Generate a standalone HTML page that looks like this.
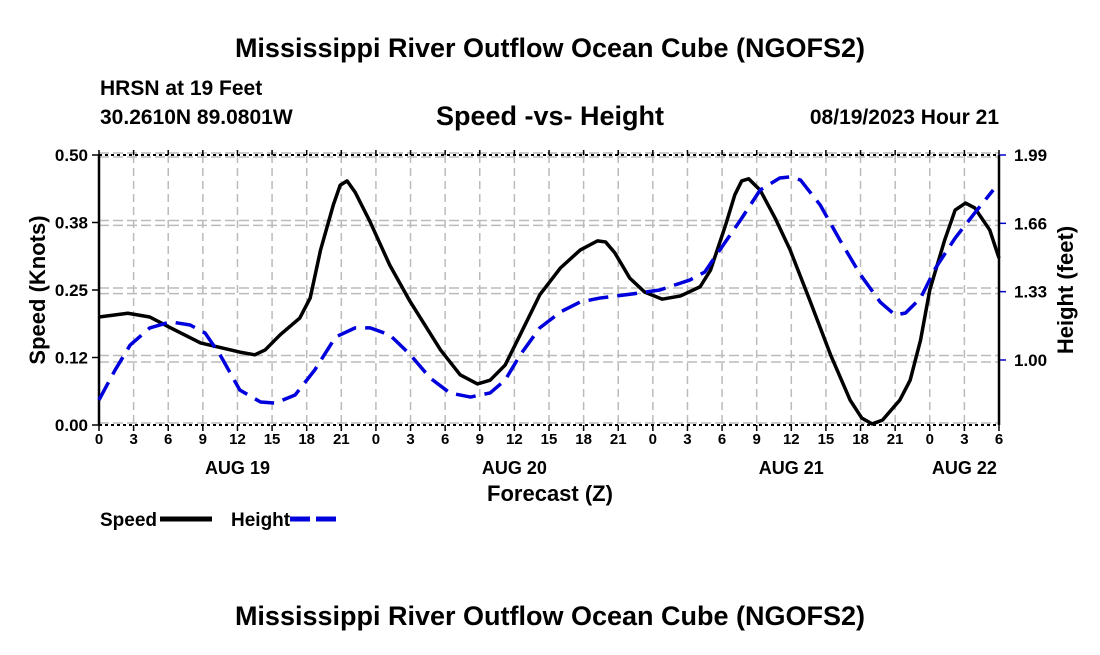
<!DOCTYPE html>
<html><head><meta charset="utf-8"><style>
body{margin:0;background:#fff;}
svg text{font-family:"Liberation Sans",Arial,sans-serif;font-weight:bold;fill:#000;}
</style></head><body>
<svg id="chart" width="1100" height="650" viewBox="0 0 1100 650" xmlns="http://www.w3.org/2000/svg">
<text x="550" y="57" font-size="27" text-anchor="middle">Mississippi River Outflow Ocean Cube (NGOFS2)</text>
<text x="100" y="95" font-size="21">HRSN at 19 Feet</text>
<text x="100" y="124" font-size="21">30.2610N  89.0801W</text>
<text x="550" y="125" font-size="27" text-anchor="middle">Speed -vs- Height</text>
<text x="999" y="124" font-size="21" text-anchor="end">08/19/2023 Hour 21</text>
<g id="grid"></g>
<g id="axes"></g>
<g id="series"></g>
<text transform="translate(45,290) rotate(-90)" font-size="22" text-anchor="middle">Speed (Knots)</text>
<text transform="translate(1073,290) rotate(-90)" font-size="22" text-anchor="middle">Height (feet)</text>
<text x="550" y="501" font-size="22" text-anchor="middle">Forecast (Z)</text>
<g>
<text x="100" y="526" font-size="19">Speed</text>
<line x1="160" y1="519" x2="212" y2="519" stroke="#000" stroke-width="5"/>
<text x="231" y="526" font-size="19">Height</text>
<line x1="290" y1="519" x2="342" y2="519" stroke="#0000dd" stroke-width="5" stroke-dasharray="20 6"/>
</g>
<text x="550" y="625" font-size="27" text-anchor="middle">Mississippi River Outflow Ocean Cube (NGOFS2)</text>
</svg>
<script>
const speedHours=[0,2.5,4.4,6.2,8.8,12.2,13.5,14.4,15.7,17.4,18.3,19.2,20.3,20.9,21.5,22.2,23.5,25.2,26.9,29.6,31.3,32.8,33.9,35.2,36.5,38.2,40,41.7,43.2,43.9,44.7,46,47.3,48.8,50.4,52.1,53,54.3,55.1,55.7,56.3,57.3,58.6,59.9,61.6,63.4,65.1,66.1,67,67.9,69.4,70.3,71.2,72,73.3,74.2,75.1,75.9,77.2,78];
const speedValues=[0.2,0.207,0.2,0.18,0.152,0.135,0.13,0.139,0.167,0.198,0.235,0.324,0.407,0.444,0.452,0.431,0.376,0.296,0.231,0.139,0.093,0.076,0.083,0.111,0.167,0.241,0.291,0.324,0.341,0.339,0.319,0.272,0.246,0.233,0.239,0.256,0.287,0.37,0.426,0.452,0.456,0.435,0.383,0.324,0.231,0.13,0.046,0.013,0.002,0.009,0.046,0.083,0.157,0.25,0.343,0.398,0.411,0.402,0.361,0.309];
const heightHours=[0,1.4,2.7,4.4,6.2,7.9,9.2,10.5,12.2,14,15.3,17,18.7,20.5,22.2,23.5,25.2,27,28.7,30.4,32.2,33.9,35.2,36.5,38.2,40,41.7,43.4,46.9,48.6,51.2,52.5,53.8,55.6,57.3,59,59.9,60.8,62.5,64.2,66,67.7,69,69.9,71.2,72.5,74.2,75.9,77.5];
const heightValues=[0.807,0.952,1.072,1.155,1.184,1.169,1.13,1.024,0.855,0.797,0.792,0.831,0.952,1.111,1.155,1.155,1.121,1.024,0.913,0.841,0.821,0.841,0.903,1.024,1.155,1.232,1.28,1.299,1.324,1.338,1.386,1.425,1.531,1.676,1.821,1.879,1.884,1.869,1.749,1.58,1.411,1.28,1.217,1.227,1.299,1.444,1.589,1.71,1.821];
const xTickHours=[0,3,6,9,12,15,18,21,24,27,30,33,36,39,42,45,48,51,54,57,60,63,66,69,72,75,78];
const xTickLabels=["0","3","6","9","12","15","18","21","0","3","6","9","12","15","18","21","0","3","6","9","12","15","18","21","0","3","6"];
const dateLabels=["AUG 19","AUG 20","AUG 21","AUG 22"];
const dateHours=[12,36,60,75];
const speedTicks=[0,0.125,0.25,0.375,0.5];
const speedTickLabels=["0.00","0.12","0.25","0.38","0.50"];
const heightTicks=[1.00,1.33,1.66,1.99];
const heightTickLabels=["1.00","1.33","1.66","1.99"];

const L=99,R=999,T=155,B=425;
const xMax=78, sMin=0, sMax=0.5, hMin=0.686, hMax=1.99;
const xs=h=>L+(h/xMax)*(R-L);
const ys=v=>B-(v-sMin)/(sMax-sMin)*(B-T);
const yh=v=>B-(v-hMin)/(hMax-hMin)*(B-T);
const NS="http://www.w3.org/2000/svg";
function mk(tag,attrs,parent,txt){const e=document.createElementNS(NS,tag);for(const k in attrs)e.setAttribute(k,attrs[k]);if(txt!==undefined)e.textContent=txt;parent.appendChild(e);return e;}
const grid=document.getElementById('grid'),axes=document.getElementById('axes'),series=document.getElementById('series');

xTickHours.forEach((h,i)=>{
  const x=xs(h);
  if(i>0&&i<xTickHours.length-1){
    const g=mk('line',{x1:x,y1:T,x2:x,y2:B,stroke:'#bbb','stroke-width':1.5,'stroke-dasharray':'8 5'},grid);
    
    
  }
  const tk=mk('line',{x1:x,y1:B,x2:x,y2:B+6,stroke:'#000','stroke-width':1.5},axes);
  
  
  const tk2=mk('line',{x1:x,y1:T,x2:x,y2:T-5,stroke:'#000','stroke-width':1.5},axes);
  
  
  const t=mk('text',{x:x,y:444,'font-size':15,'text-anchor':'middle'},axes,xTickLabels[i]);
  
  
});
dateLabels.forEach((d,i)=>{
  const t=mk('text',{x:xs(dateHours[i]),y:474,'font-size':18,'text-anchor':'middle'},axes,d);
  
  
});
speedTicks.forEach((v,i)=>{
  const y=ys(v);
  const g=mk('line',{x1:L,y1:y-2,x2:R,y2:y-2,stroke:'#bbb','stroke-width':1.5,'stroke-dasharray':'10 4'},grid);
  
  
  const tk=mk('line',{x1:L-7,y1:y,x2:L,y2:y,stroke:'#000','stroke-width':1.5},axes);
  
  
  const t=mk('text',{x:L-11,y:y+6,'font-size':17,'text-anchor':'end'},axes,speedTickLabels[i]);
  
  
});
heightTicks.forEach((v,i)=>{
  const y=yh(v);
  const g=mk('line',{x1:L,y1:y+2,x2:R,y2:y+2,stroke:'#bbb','stroke-width':1.5,'stroke-dasharray':'10 4'},grid);
  
  
  const tk=mk('line',{x1:R,y1:y,x2:R+7,y2:y,stroke:'#0000cc','stroke-width':1.5},axes);
  
  
  const t=mk('text',{x:R+15,y:y+6,'font-size':17},axes,heightTickLabels[i]);
  
  
});
[[L,T,L,B],[R,T,R,B]].forEach(a=>{
  const l=mk('line',{x1:a[0],y1:a[1],x2:a[2],y2:a[3],stroke:'#000','stroke-width':2.5},axes);
  
  
});
[[T],[B]].forEach(a=>{
  const l=mk('line',{x1:L,y1:a[0],x2:R,y2:a[0],stroke:'#000','stroke-width':2,'stroke-dasharray':'3 3'},axes);
  
  
});
const sp=mk('polyline',{points:speedHours.map((h,i)=>xs(h)+','+ys(speedValues[i])).join(' '),fill:'none',stroke:'#000','stroke-width':3.5,'stroke-linejoin':'round'},series);


const hl=mk('polyline',{points:heightHours.map((h,i)=>xs(h)+','+yh(heightValues[i])).join(' '),fill:'none',stroke:'#0000dd','stroke-width':3.5,'stroke-dasharray':'20 9','stroke-linejoin':'round'},series);


</script>
</body></html>
